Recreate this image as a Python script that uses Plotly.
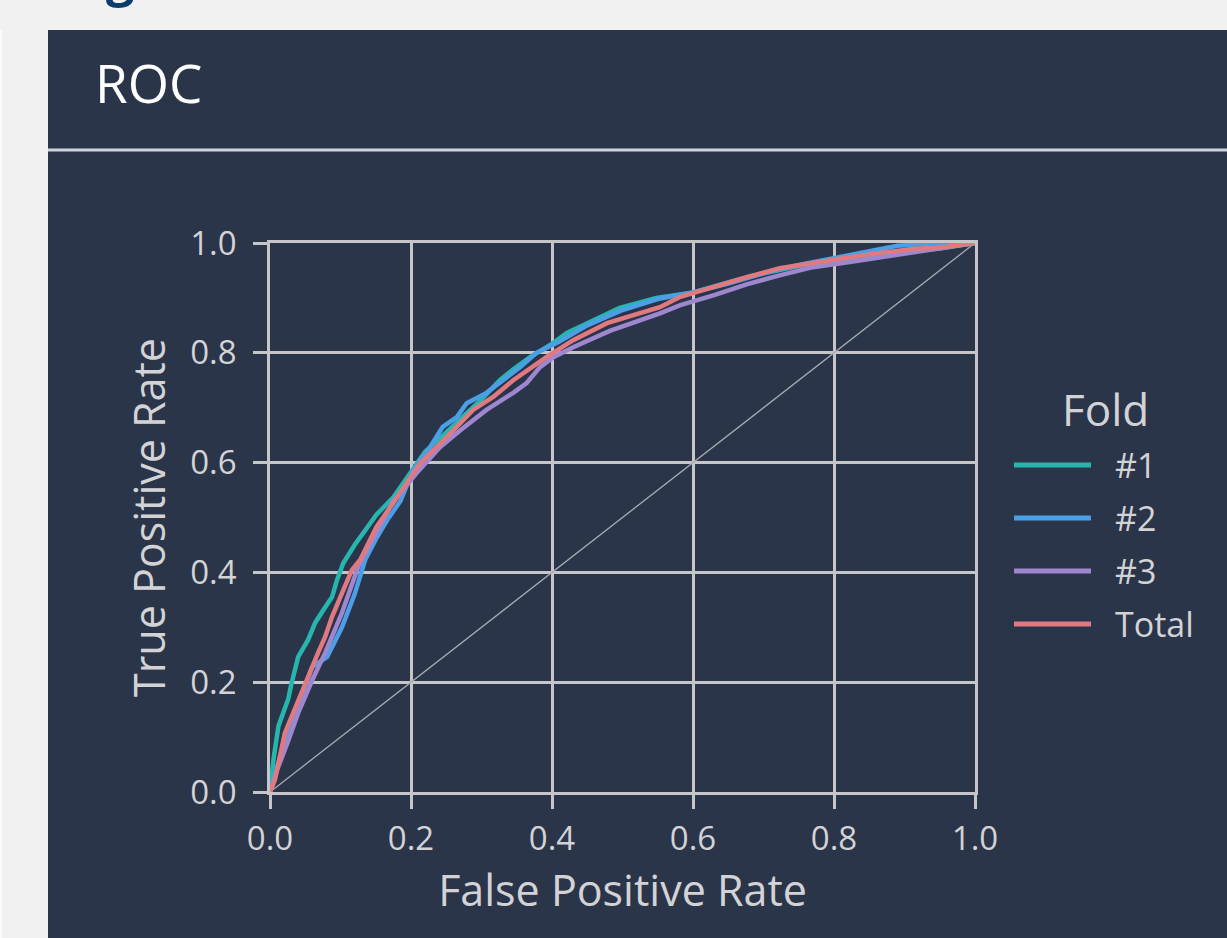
import plotly.graph_objects as go

W, H = 1227, 938
L, R, T, B = 270, 975, 243, 792


def px(x):
    return (x - L) / (R - L)


def py(y):
    return (B - y) / (B - T)


# ---------------- data ----------------
fold_names = ["#1", "#2", "#3", "Total"]
fold_colors = ["#27b6ae", "#4b9fe6", "#9e87cf", "#e07a80"]

fold1_fpr = [0, 0.005, 0.012, 0.02, 0.026, 0.03, 0.04, 0.054, 0.064, 0.075, 0.088, 0.095,
             0.104, 0.12, 0.138, 0.151, 0.175, 0.189, 0.2, 0.22, 0.25, 0.28, 0.30, 0.326,
             0.345, 0.369, 0.402, 0.421, 0.459, 0.496, 0.548, 0.6, 0.65, 0.7, 0.75, 0.8,
             0.85, 0.9, 0.95, 1.0]
fold1_tpr = [0, 0.06, 0.12, 0.15, 0.17, 0.195, 0.246, 0.277, 0.308, 0.33, 0.355, 0.386,
             0.417, 0.45, 0.483, 0.505, 0.537, 0.563, 0.585, 0.62, 0.655, 0.69, 0.715, 0.75,
             0.77, 0.792, 0.818, 0.836, 0.86, 0.882, 0.90, 0.91, 0.928, 0.945, 0.958, 0.968,
             0.976, 0.984, 0.99, 1.0]

fold2_fpr = [0, 0.01, 0.02, 0.04, 0.06, 0.081, 0.102, 0.12, 0.135, 0.15, 0.166, 0.185,
             0.203, 0.227, 0.245, 0.265, 0.279, 0.307, 0.326, 0.355, 0.378, 0.41, 0.45, 0.5,
             0.55, 0.6, 0.65, 0.7, 0.75, 0.8, 0.85, 0.89, 0.95, 1.0]
fold2_tpr = [0, 0.045, 0.09, 0.16, 0.228, 0.246, 0.30, 0.36, 0.423, 0.46, 0.495, 0.53,
             0.586, 0.628, 0.665, 0.683, 0.708, 0.727, 0.745, 0.774, 0.80, 0.82, 0.85, 0.878,
             0.898, 0.91, 0.926, 0.945, 0.96, 0.972, 0.985, 0.995, 1.0, 1.0]

fold3_fpr = [0, 0.01, 0.025, 0.04, 0.06, 0.078, 0.102, 0.125, 0.15, 0.175, 0.208, 0.241,
             0.27, 0.307, 0.345, 0.364, 0.383, 0.402, 0.43, 0.454, 0.482, 0.553, 0.582,
             0.63, 0.677, 0.72, 0.77, 0.82, 0.87, 0.92, 0.96, 1.0]
fold3_tpr = [0, 0.04, 0.09, 0.144, 0.204, 0.253, 0.326, 0.41, 0.47, 0.53, 0.581, 0.628,
             0.659, 0.696, 0.727, 0.745, 0.774, 0.792, 0.81, 0.823, 0.84, 0.872, 0.887,
             0.905, 0.925, 0.94, 0.956, 0.965, 0.975, 0.985, 0.993, 1.0]

total_fpr = [0, 0.007, 0.021, 0.04, 0.054, 0.068, 0.078, 0.088, 0.102, 0.116, 0.128, 0.151,
             0.175, 0.194, 0.213, 0.251, 0.288, 0.317, 0.345, 0.392, 0.43, 0.478, 0.553,
             0.582, 0.628, 0.677, 0.723, 0.77, 0.818, 0.865, 0.912, 0.96, 1.0]
total_tpr = [0, 0.022, 0.107, 0.168, 0.21, 0.253, 0.282, 0.319, 0.362, 0.404, 0.423, 0.483,
             0.527, 0.563, 0.599, 0.647, 0.696, 0.72, 0.75, 0.792, 0.823, 0.854, 0.883,
             0.902, 0.92, 0.938, 0.954, 0.964, 0.973, 0.982, 0.989, 0.993, 1.0]

tick_vals = [0.0, 0.2, 0.4, 0.6, 0.8, 1.0]
tick_text = ["0.0", "0.2", "0.4", "0.6", "0.8", "1.0"]

series = [(fold1_fpr, fold1_tpr), (fold2_fpr, fold2_tpr), (fold3_fpr, fold3_tpr),
          (total_fpr, total_tpr)]

# ---------------- style ----------------
PANEL = "#2b354a"
GRID = "#c6c6c9"
TEXT = "#d3d3d6"
FONT = "Open Sans"

fig = go.Figure()

fig.add_trace(go.Scatter(x=[0, 1], y=[0, 1], mode="lines",
                         line=dict(color="#a9abb2", width=1.3),
                         hoverinfo="skip", showlegend=False))

for name, color, (fx, ty) in zip(fold_names, fold_colors, series):
    fig.add_trace(go.Scatter(x=fx, y=ty, mode="lines", name=name,
                             line=dict(color=color, width=4.5),
                             showlegend=False))

axis_common = dict(
    range=[0, 1], tickvals=tick_vals, ticktext=tick_text,
    showgrid=True, gridcolor=GRID, gridwidth=2.5,
    zeroline=False, showline=True, mirror=True, linecolor=GRID, linewidth=2.5,
    ticks="outside", ticklen=14, tickwidth=2.5, tickcolor=GRID,
    tickfont=dict(family=FONT, size=33, color=TEXT),
)

fig.update_xaxes(**axis_common, ticklabelstandoff=2,
                 title=dict(text="False Positive Rate",
                            font=dict(family=FONT, size=43, color=TEXT), standoff=10))
fig.update_yaxes(**axis_common, ticklabelstandoff=10,
                 title=dict(text="True Positive Rate",
                            font=dict(family=FONT, size=43, color=TEXT), standoff=12))

shapes = [
    dict(type="rect", xref="paper", yref="paper", x0=px(48), x1=px(1240), y0=py(950),
         y1=py(30), fillcolor=PANEL, line=dict(width=0), layer="below"),
    dict(type="rect", xref="paper", yref="paper", x0=px(0), x1=px(2), y0=py(950),
         y1=py(30), fillcolor="#fbfbfb", line=dict(width=0), layer="below"),
    dict(type="line", xref="paper", yref="paper", x0=px(48), x1=px(1240), y0=py(150),
         y1=py(150), line=dict(color="#cfd2d8", width=3)),
]

annotations = [
    dict(text="ROC", xref="paper", yref="paper", x=px(93), y=py(83), xanchor="left",
         yanchor="middle", showarrow=False,
         font=dict(family=FONT, size=53, color="#ffffff")),
    dict(text="Fold", xref="paper", yref="paper", x=px(1105), y=py(409), xanchor="center",
         yanchor="middle", showarrow=False,
         font=dict(family=FONT, size=44, color=TEXT)),
    dict(text="<b>g</b>", xref="paper", yref="paper", x=px(120), y=py(13),
         xanchor="center", yanchor="bottom", showarrow=False,
         font=dict(family=FONT, size=50, color="#0b3c6e")),
]

legend_y = [465, 518, 571, 624]
for name, color, yy in zip(fold_names, fold_colors, legend_y):
    shapes.append(dict(type="line", xref="paper", yref="paper", x0=px(1014), x1=px(1091),
                       y0=py(yy), y1=py(yy), line=dict(color=color, width=5)))
    annotations.append(dict(text=name, xref="paper", yref="paper", x=px(1113), y=py(yy),
                            xanchor="left", yanchor="middle", showarrow=False,
                            font=dict(family=FONT, size=34, color=TEXT)))

fig.update_layout(
    width=W, height=H,
    margin=dict(l=L, r=W - R, t=T, b=H - B, autoexpand=False),
    paper_bgcolor="#f1f1f1", plot_bgcolor=PANEL,
    showlegend=False,
    font=dict(family=FONT, color=TEXT),
    shapes=shapes, annotations=annotations,
)

fig.write_html("out.html",
               config={"displayModeBar": False},
               post_script="document.body.style.margin='0px';"
                           "document.body.style.background='#f1f1f1';")
